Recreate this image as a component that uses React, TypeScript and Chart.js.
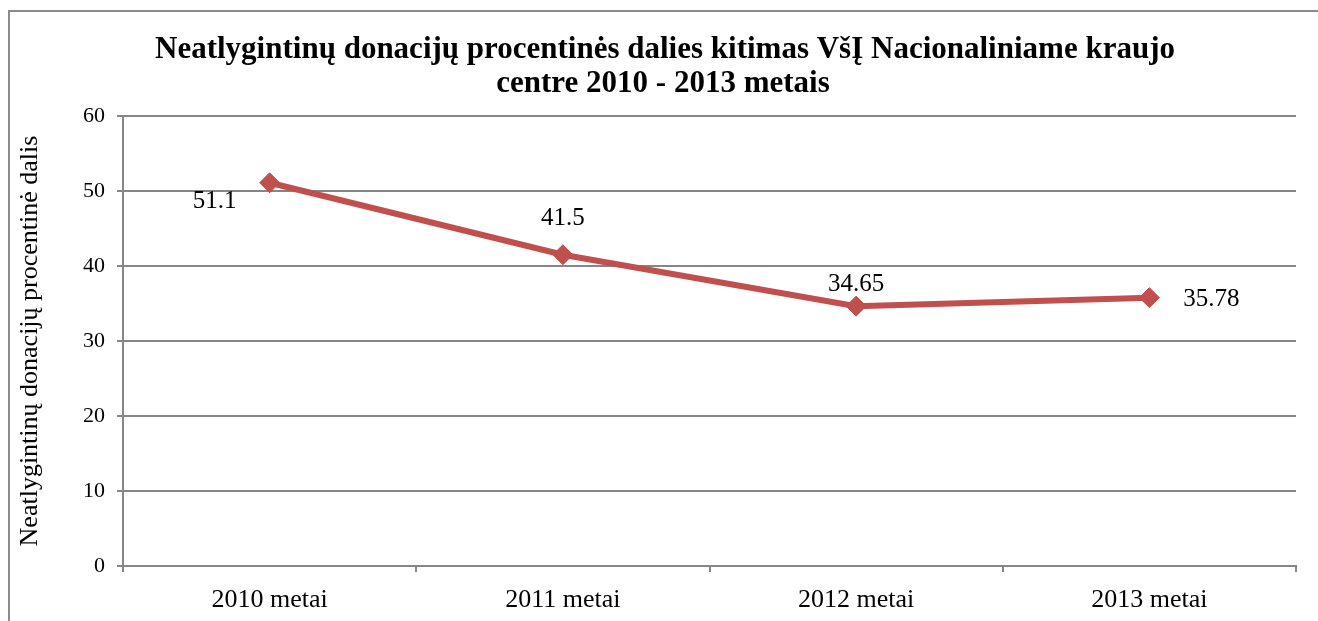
import React, { useEffect, useRef } from "react";
import { Chart, registerables } from "chart.js";

Chart.register(...registerables);

const categories = ["2010 metai", "2011 metai", "2012 metai", "2013 metai"];
const values = [51.1, 41.5, 34.65, 35.78];
const valueLabels = ["51.1", "41.5", "34.65", "35.78"];
const titleLines = [
  "Neatlygintinų donacijų procentinės dalies kitimas VšĮ Nacionaliniame kraujo",
  "centre 2010 - 2013 metais",
];
const yAxisTitle = "Neatlygintinų donacijų procentinė dalis";

const labelOffsets = [
  { dx: -55, dy: 19 },
  { dx: 0, dy: -36 },
  { dx: 0, dy: -22 },
  { dx: 62, dy: 2 },
];

const SERIF = "'Liberation Serif', 'Times New Roman', serif";
const GRID = "#868686";
const RED = "#C0504D";

const framePlugin = {
  id: "frame",
  beforeDraw(chart: any) {
    const ctx = chart.ctx;
    ctx.save();
    ctx.strokeStyle = "#8c8c8c";
    ctx.lineWidth = 2;
    ctx.beginPath();
    ctx.moveTo(9, chart.height + 5);
    ctx.lineTo(9, 11);
    ctx.lineTo(chart.width + 5, 11);
    ctx.stroke();
    ctx.restore();
  },
};

const titlePlugin = {
  id: "customTitle",
  afterDraw(chart: any) {
    const ctx = chart.ctx;
    ctx.save();
    ctx.font = `bold 31px ${SERIF}`;
    ctx.fillStyle = "#000";
    ctx.textAlign = "center";
    ctx.textBaseline = "middle";
    ctx.fillText(titleLines[0], 665, 50);
    ctx.fillText(titleLines[1], 663, 84);
    ctx.restore();
  },
};

const dataLabelPlugin = {
  id: "dataLabels",
  afterDatasetsDraw(chart: any) {
    const ctx = chart.ctx;
    const meta = chart.getDatasetMeta(0);
    ctx.save();
    ctx.font = `25px ${SERIF}`;
    ctx.fillStyle = "#000";
    ctx.textAlign = "center";
    ctx.textBaseline = "middle";
    meta.data.forEach((pt: any, i: number) => {
      const o = labelOffsets[i];
      ctx.fillText(valueLabels[i], pt.x + o.dx, pt.y + o.dy);
    });
    ctx.restore();
  },
};

export default function App() {
  const ref = useRef<HTMLCanvasElement | null>(null);
  useEffect(() => {
    if (!ref.current) return;
    const chart = new Chart(ref.current, {
      type: "line",
      data: {
        labels: categories,
        datasets: [
          {
            data: values,
            borderColor: RED,
            backgroundColor: RED,
            borderWidth: 6,
            pointStyle: "rectRot",
            pointRadius: 10,
            pointHoverRadius: 10,
            pointBackgroundColor: RED,
            pointBorderColor: RED,
            pointBorderWidth: 1,
            tension: 0,
          },
        ],
      },
      options: {
        animation: false,
        responsive: false,
        maintainAspectRatio: false,
        layout: { padding: { left: 0, right: 22, top: 116, bottom: 0 } },
        plugins: {
          legend: { display: false },
          tooltip: { enabled: false },
          title: { display: false },
        },
        scales: {
          x: {
            offset: true,
            grid: {
              display: true,
              offset: true,
              drawOnChartArea: false,
              drawTicks: true,
              tickLength: 6,
              color: GRID,
              lineWidth: 2,
            },
            border: { display: true, color: GRID, width: 2 },
            ticks: {
              color: "#000",
              font: { family: SERIF, size: 26 },
              padding: 13,
              maxRotation: 0,
            },
            afterFit(scale: any) {
              scale.height = 55;
            },
          },
          y: {
            min: 0,
            max: 60,
            ticks: {
              stepSize: 10,
              color: "#000",
              font: { family: SERIF, size: 22 },
              padding: 12,
            },
            grid: {
              color: GRID,
              lineWidth: 2,
              tickLength: 6,
              drawTicks: true,
            },
            border: { display: true, color: GRID, width: 2 },
            title: {
              display: true,
              text: yAxisTitle,
              color: "#000",
              font: { family: SERIF, size: 26 },
              padding: { top: 15, bottom: 0 },
            },
            afterFit(scale: any) {
              scale.width = 123;
            },
          },
        },
      },
      plugins: [framePlugin, dataLabelPlugin, titlePlugin],
    });
    return () => chart.destroy();
  }, []);
  return (
    <div style={{ position: "fixed", left: 0, top: 0, width: 1318, height: 621, background: "#fff" }}>
      <canvas ref={ref} width={1318} height={621} style={{ display: "block" }} />
    </div>
  );
}
